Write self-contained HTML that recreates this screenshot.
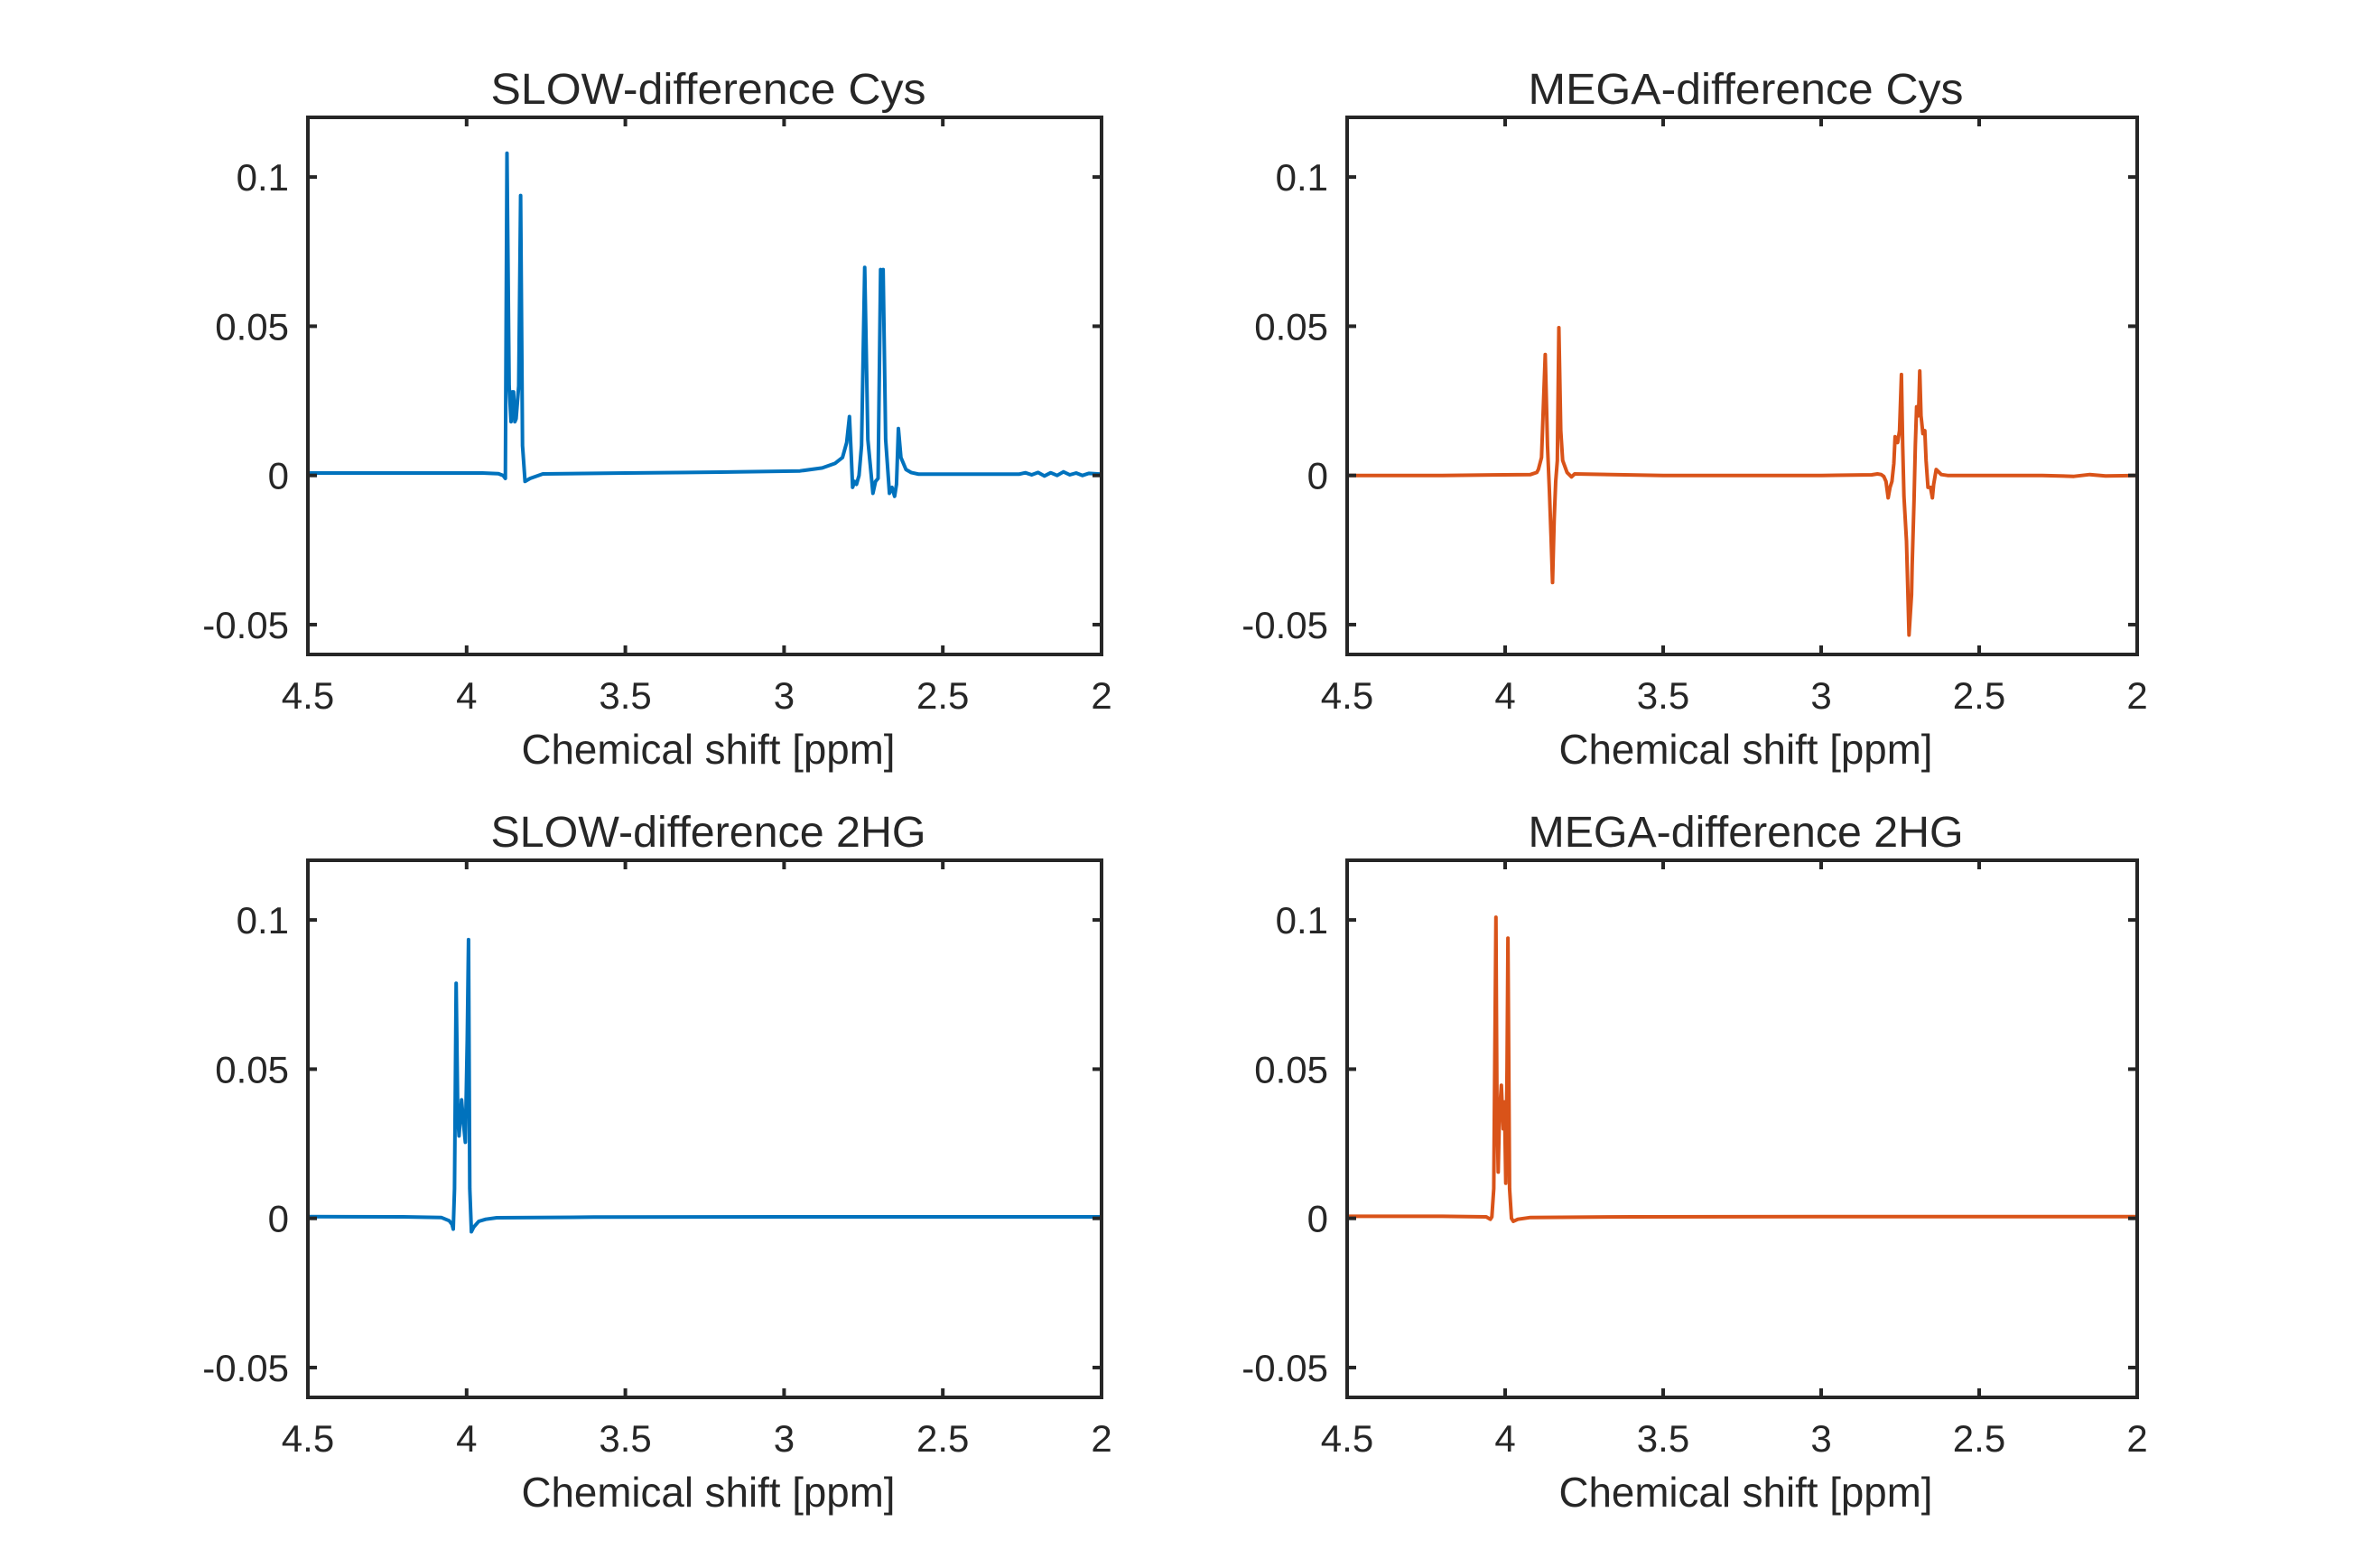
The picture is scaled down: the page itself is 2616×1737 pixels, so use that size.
<!DOCTYPE html>
<html><head><meta charset="utf-8"><style>
html,body{margin:0;padding:0;background:#fff;}
svg{display:block;font-family:"Liberation Sans",Arial,sans-serif;}
</style></head><body>
<svg id="fig" width="2616" height="1737" viewBox="0 0 2616 1737" xmlns="http://www.w3.org/2000/svg"></svg>
<script>
// ---- data ----
const xTicks = [4.5, 4, 3.5, 3, 2.5, 2];
const xTickLabels = ["4.5", "4", "3.5", "3", "2.5", "2"];
const yTicks = [-0.05, 0, 0.05, 0.1];
const yTickLabels = ["-0.05", "0", "0.05", "0.1"];
const xRange = [4.5, 2];
const yRange = [-0.06, 0.12];

const slowCysPpm = [4.5,4.2,3.95,3.9,3.885,3.878,3.873,3.866,3.86,3.856,3.852,3.848,3.844,3.836,3.83,3.824,3.816,3.8,3.76,3.5,3.2,2.95,2.88,2.84,2.816,2.803,2.794,2.788,2.784,2.778,2.772,2.764,2.756,2.746,2.736,2.72,2.712,2.704,2.696,2.692,2.688,2.68,2.668,2.66,2.652,2.646,2.64,2.632,2.616,2.6,2.576,2.4,2.26,2.24,2.22,2.2,2.18,2.16,2.14,2.12,2.1,2.08,2.06,2.04,2.0];
const slowCysVal = [0.0008,0.0008,0.0008,0.0006,0,-0.001,0.108,0.03,0.018,0.028,0.028,0.018,0.019,0.03,0.0938,0.01,-0.002,-0.001,0.0005,0.0008,0.0011,0.0015,0.0025,0.004,0.006,0.011,0.0197,0.006,-0.004,-0.002,-0.003,0,0.01,0.0697,0.012,-0.006,-0.002,-0.001,0.069,0.062,0.069,0.012,-0.006,-0.004,-0.007,-0.003,0.0157,0.006,0.002,0.001,0.0004,0.0004,0.0004,0.0009,0.0002,0.001,-0.0002,0.0009,0,0.0012,0.0002,0.0008,0,0.0007,0.0004];

const megaCysPpm = [4.5,4.2,3.92,3.9,3.895,3.885,3.873,3.866,3.86,3.855,3.85,3.845,3.84,3.835,3.83,3.824,3.818,3.804,3.79,3.78,3.5,3.0,2.84,2.822,2.81,2.802,2.795,2.788,2.782,2.776,2.77,2.766,2.758,2.752,2.746,2.742,2.738,2.73,2.722,2.714,2.712,2.706,2.702,2.698,2.692,2.688,2.684,2.678,2.672,2.668,2.662,2.654,2.648,2.644,2.636,2.62,2.6,2.3,2.2,2.15,2.1,2.0];
const megaCysVal = [0,0,0.0003,0.001,0.002,0.006,0.0405,0.01,-0.005,-0.02,-0.0359,-0.015,-0.002,0.005,0.0495,0.015,0.005,0.001,-0.0005,0.0005,0,0,0.0002,0.0005,0.0003,-0.0003,-0.002,-0.0075,-0.004,-0.002,0.004,0.013,0.011,0.015,0.0338,0.01,-0.007,-0.022,-0.0535,-0.04,-0.03,-0.008,0.01,0.023,0.02,0.035,0.02,0.014,0.015,0.005,-0.004,-0.004,-0.0075,-0.003,0.002,0.0003,0,0,-0.0003,0.0003,-0.0002,0];

const slow2hgPpm = [4.5,4.2,4.08,4.055,4.046,4.042,4.038,4.033,4.028,4.024,4.016,4.01,4.004,3.998,3.994,3.99,3.985,3.978,3.962,3.94,3.905,3.6,3.0,2.5,2.0];
const slow2hgVal = [0.0006,0.0005,0.0003,-0.0008,-0.002,-0.0036,0.01,0.0788,0.035,0.0276,0.0397,0.032,0.0255,0.06,0.0934,0.01,-0.0045,-0.003,-0.001,-0.0003,0.0002,0.0004,0.0005,0.0005,0.0005];

const mega2hgPpm = [4.5,4.2,4.06,4.047,4.042,4.036,4.029,4.026,4.022,4.018,4.012,4.006,4.002,3.998,3.994,3.991,3.986,3.98,3.974,3.96,3.92,3.6,3.0,2.5,2.0];
const mega2hgVal = [0.0007,0.0007,0.0005,-0.0003,0.0005,0.01,0.1009,0.04,0.0155,0.035,0.0446,0.03,0.039,0.0118,0.05,0.0939,0.01,0,-0.001,-0.0003,0.0003,0.0005,0.0006,0.0006,0.0006];

const panels = [
  {name:"slow-cys", title:"SLOW-difference Cys", x0:341, x1:1220, y0:130, y1:725, ppm:slowCysPpm, val:slowCysVal, color:"#0072BD"},
  {name:"mega-cys", title:"MEGA-difference Cys", x0:1492, x1:2367, y0:130, y1:725, ppm:megaCysPpm, val:megaCysVal, color:"#D95319"},
  {name:"slow-2hg", title:"SLOW-difference 2HG", x0:341, x1:1220, y0:953, y1:1548, ppm:slow2hgPpm, val:slow2hgVal, color:"#0072BD"},
  {name:"mega-2hg", title:"MEGA-difference 2HG", x0:1492, x1:2367, y0:953, y1:1548, ppm:mega2hgPpm, val:mega2hgVal, color:"#D95319"}
];

const NS = "http://www.w3.org/2000/svg";
const svg = document.getElementById("fig");
function mk(tag, attrs, parent){
  const e = document.createElementNS(NS, tag);
  for (const k in attrs) e.setAttribute(k, attrs[k]);
  parent.appendChild(e);
  return e;
}
const AX = "#262626";
panels.forEach(p => {
  const g = mk("g", {}, svg);
  
  
  const sx = v => p.x0 + (v - xRange[0]) / (xRange[1] - xRange[0]) * (p.x1 - p.x0);
  const sy = v => p.y1 - (v - yRange[0]) / (yRange[1] - yRange[0]) * (p.y1 - p.y0);
  const cx = (p.x0 + p.x1) / 2;

  const cid = "clip-" + p.name;
  const cp = mk("clipPath", {id: cid}, g);
  mk("rect", {x:p.x0, y:p.y0, width:p.x1-p.x0, height:p.y1-p.y0}, cp);
  let d = "";
  p.ppm.forEach((x, i) => { d += (i ? "L" : "M") + sx(x).toFixed(1) + " " + sy(p.val[i]).toFixed(1); });
  const line = mk("path", {d:d, fill:"none", stroke:p.color, "stroke-width":4, "stroke-linejoin":"round", "clip-path":"url(#"+cid+")"}, g);
  
  

  const box = mk("rect", {x:p.x0, y:p.y0, width:p.x1-p.x0, height:p.y1-p.y0, fill:"none", stroke:AX, "stroke-width":4}, g);
  
  

  xTicks.forEach((t, i) => {
    const x = sx(t);
    if (i > 0 && i < xTicks.length - 1) {
      mk("line", {x1:x, x2:x, y1:p.y1, y2:p.y1-10, stroke:AX, "stroke-width":4}, g);
      mk("line", {x1:x, x2:x, y1:p.y0, y2:p.y0+10, stroke:AX, "stroke-width":4}, g);
    }
    const tl = mk("text", {x:x, y:p.y1+60, "text-anchor":"middle", "font-size":42, fill:AX}, g);
    tl.textContent = xTickLabels[i];
    
    
  });
  yTicks.forEach((t, i) => {
    const y = sy(t);
    mk("line", {x1:p.x0, x2:p.x0+10, y1:y, y2:y, stroke:AX, "stroke-width":4}, g);
    mk("line", {x1:p.x1, x2:p.x1-10, y1:y, y2:y, stroke:AX, "stroke-width":4}, g);
    const tl = mk("text", {x:p.x0-21, y:y+15, "text-anchor":"end", "font-size":42, fill:AX}, g);
    tl.textContent = yTickLabels[i];
    
    
  });
  const tt = mk("text", {x:cx+4, y:p.y0-15, "text-anchor":"middle", "font-size":48, fill:AX, textLength:482, lengthAdjust:"spacingAndGlyphs"}, g);
  tt.textContent = p.title;
  
  
  const xl = mk("text", {x:cx+4, y:p.y1+121, "text-anchor":"middle", "font-size":46, fill:AX, textLength:414, lengthAdjust:"spacingAndGlyphs"}, g);
  xl.textContent = "Chemical shift [ppm]";
  
  
});
</script>
</body></html>
